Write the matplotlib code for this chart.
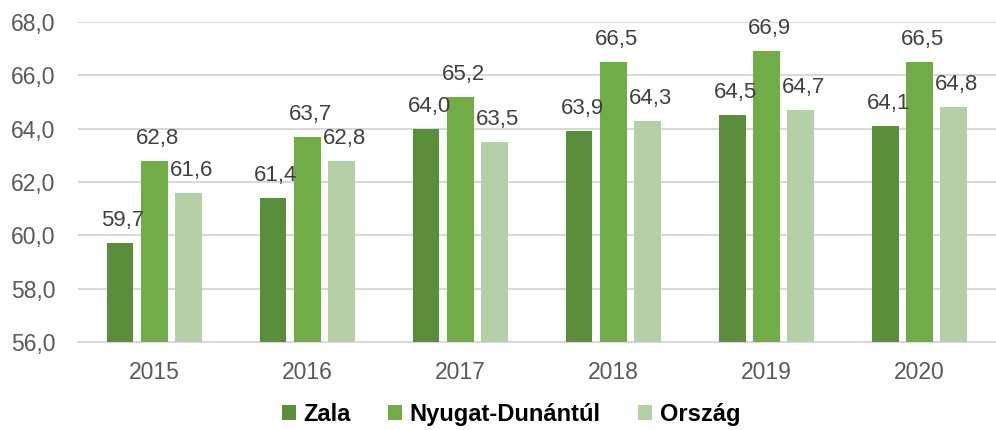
import matplotlib
matplotlib.use("Agg")
import matplotlib.pyplot as plt
import numpy as np

plt.rcParams['font.family'] = ['Liberation Sans', 'DejaVu Sans']

years = ['2015', '2016', '2017', '2018', '2019', '2020']
zala = [59.7, 61.4, 64.0, 63.9, 64.5, 64.1]
nyugat = [62.8, 63.7, 65.2, 66.5, 66.9, 66.5]
orszag = [61.6, 62.8, 63.5, 64.3, 64.7, 64.8]
series_names = ['Zala', 'Nyugat-Dunántúl', 'Ország']
colors = ['#5B8E3A', '#70AD47', '#B5D0A7']

fig = plt.figure(figsize=(9.96, 4.30), dpi=100)
ax = fig.add_axes([0.078, 0.205, 0.922, 0.744])

x = np.arange(len(years))
w = 0.175
step = 0.224
for i, (vals, name, col) in enumerate(zip([zala, nyugat, orszag], series_names, colors)):
    pos = x + (i - 1) * step
    ax.bar(pos, np.array(vals) - 56, bottom=56, width=w, color=col, label=name, zorder=3)
    for p, v in zip(pos, vals):
        ax.text(p + 0.02, v + 0.45, f"{v:.1f}".replace('.', ','), ha='center', va='bottom',
                fontsize=16, color='#404040', zorder=4)

ax.set_ylim(56, 68)
ax.set_xlim(-0.5, 5.5)
ax.set_yticks(np.arange(56, 68.1, 2))
ax.set_yticklabels([f"{t:.1f}".replace('.', ',') for t in np.arange(56, 68.1, 2)])
ax.set_xticks(x)
ax.set_xticklabels(years)
ax.grid(axis='y', color='#D9D9D9', linewidth=1.5, zorder=0)
for s in ['top', 'right', 'left']:
    ax.spines[s].set_visible(False)
ax.spines['bottom'].set_color('#D9D9D9')
ax.spines['bottom'].set_linewidth(1.5)
ax.tick_params(axis='both', length=0, labelsize=16.5, colors='#595959', pad=14)
ax.tick_params(axis='y', pad=16)

leg = fig.legend(loc='lower center', bbox_to_anchor=(0.513, -0.04), ncol=3, frameon=False,
                 prop={'size': 17, 'weight': 'bold'}, handlelength=0.6, handleheight=0.6,
                 handletextpad=0.3, columnspacing=1.6)

fig.savefig('out.png', dpi=100)
